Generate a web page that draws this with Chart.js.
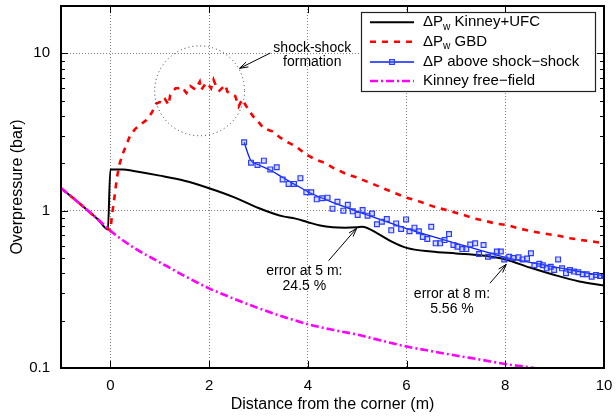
<!DOCTYPE html>
<html>
<head>
<meta charset="utf-8">
<script src="https://cdn.jsdelivr.net/npm/chart.js@4/dist/chart.umd.min.js"></script>
<style>
html,body{margin:0;padding:0;background:#fff;}
#wrap{width:616px;height:418px;position:relative;}
</style>
</head>
<body>
<div id="wrap"><canvas id="c" width="616" height="418"></canvas></div>
<script>
// ---- data ----
const seriesLabels = ['ΔP_w Kinney+UFC', 'ΔP_w GBD', 'ΔP above shock\u2212shock', 'Kinney free\u2212field'];

const kinneyUfcX = [-1, -0.75, -0.5, -0.25, -0.05, 0, 0.25, 0.5, 1, 1.5, 2, 2.5, 3, 3.3, 3.5, 3.75, 4, 4.25, 4.5, 4.75, 5, 5.1, 5.4, 5.7, 6, 6.5, 7, 7.5, 8, 8.5, 9, 9.5, 10];
const kinneyUfcY = [1.39, 1.20, 1.03, 0.88, 0.76, 1.83, 1.83, 1.78, 1.67, 1.55, 1.39, 1.22, 1.04, 0.96, 0.92, 0.89, 0.845, 0.805, 0.785, 0.78, 0.785, 0.79, 0.72, 0.635, 0.58, 0.55, 0.535, 0.52, 0.49, 0.435, 0.39, 0.355, 0.334];

const gbdX = [-1, -0.75, -0.5, -0.25, 0, 0.03, 0.08, 0.13, 0.18, 0.25, 0.32, 0.4, 0.5, 0.6, 0.73, 0.84, 0.93, 1.0, 1.07, 1.11, 1.18, 1.21, 1.32, 1.38, 1.45, 1.54, 1.62, 1.72, 1.81, 1.84, 1.94, 1.99, 2.04, 2.09, 2.15, 2.21, 2.33, 2.37, 2.45, 2.53, 2.60, 2.67, 2.72, 2.80, 2.90, 2.97, 3.1, 3.29, 3.45, 3.58, 3.77, 3.95, 4.15, 4.33, 4.53, 4.78, 4.98, 5.2, 5.5, 5.75, 6.0, 6.24, 6.44, 6.65, 6.88, 7.15, 7.39, 7.6, 7.79, 8.03, 8.27, 8.5, 8.8, 9.08, 9.31, 9.55, 9.8, 10];
const gbdY = [1.39, 1.20, 1.03, 0.88, 0.745, 0.92, 1.2, 1.6, 1.95, 2.3, 2.6, 3.0, 3.3, 3.5, 3.77, 4.2, 4.8, 4.9, 4.8, 5.1, 4.7, 5.4, 6.0, 6.0, 6.1, 5.6, 6.2, 5.9, 6.6, 5.85, 6.5, 6.3, 6.0, 6.8, 6.1, 5.8, 6.3, 5.7, 5.5, 5.35, 4.6, 5.1, 4.8, 4.36, 3.95, 3.77, 3.35, 3.18, 2.9, 2.74, 2.55, 2.29, 2.12, 2.02, 1.86, 1.71, 1.63, 1.53, 1.40, 1.30, 1.21, 1.15, 1.09, 1.04, 0.995, 0.94, 0.89, 0.86, 0.83, 0.81, 0.773, 0.743, 0.715, 0.693, 0.668, 0.65, 0.635, 0.62];

const shockX = [2.71, 2.85, 2.98, 3.11, 3.24, 3.37, 3.49, 3.61, 3.72, 3.85, 3.97, 4.07, 4.18, 4.29, 4.40, 4.50, 4.60, 4.72, 4.81, 4.91, 5.01, 5.11, 5.21, 5.30, 5.40, 5.50, 5.60, 5.69, 5.79, 5.89, 5.99, 6.06, 6.16, 6.25, 6.33, 6.42, 6.50, 6.59, 6.68, 6.77, 6.86, 6.95, 7.03, 7.13, 7.21, 7.29, 7.39, 7.47, 7.56, 7.65, 7.74, 7.83, 7.91, 7.98, 8.08, 8.16, 8.27, 8.35, 8.44, 8.52, 8.59, 8.69, 8.76, 8.84, 8.92, 8.99, 9.07, 9.15, 9.23, 9.31, 9.39, 9.48, 9.57, 9.65, 9.75, 9.84, 9.92, 10.0];
const shockY = [2.72, 2.02, 1.95, 2.08, 1.83, 1.89, 1.58, 1.48, 1.48, 1.61, 1.31, 1.31, 1.18, 1.20, 1.21, 1.03, 1.14, 1.0, 1.09, 0.99, 0.94, 1.01, 0.93, 0.96, 0.82, 0.85, 0.885, 0.75, 0.83, 0.765, 0.88, 0.74, 0.78, 0.74, 0.68, 0.66, 0.79, 0.62, 0.62, 0.65, 0.71, 0.605, 0.59, 0.57, 0.57, 0.61, 0.62, 0.53, 0.605, 0.51, 0.518, 0.55, 0.55, 0.49, 0.51, 0.50, 0.505, 0.49, 0.497, 0.536, 0.45, 0.46, 0.45, 0.43, 0.44, 0.42, 0.49, 0.43, 0.40, 0.42, 0.41, 0.406, 0.394, 0.394, 0.38, 0.39, 0.385, 0.385];

const shockFitX = [2.71, 2.84, 3.0, 3.25, 3.5, 3.75, 4.0, 4.5, 5.0, 5.5, 6.0, 6.5, 7.0, 7.5, 8.0, 8.5, 9.0, 9.5, 10];
const shockFitY = [2.72, 2.1, 1.96, 1.80, 1.62, 1.46, 1.32, 1.13, 0.99, 0.87, 0.77, 0.69, 0.62, 0.56, 0.505, 0.47, 0.44, 0.41, 0.385];

const freeFieldX = [-1, -0.75, -0.5, -0.25, 0, 0.5, 1, 1.5, 2, 2.5, 3, 3.5, 4, 4.5, 5, 5.5, 6, 6.5, 7, 7.5, 8, 8.5, 9];
const freeFieldY = [1.39, 1.20, 1.03, 0.88, 0.745, 0.575, 0.47, 0.385, 0.321, 0.276, 0.24, 0.212, 0.19, 0.175, 0.163, 0.149, 0.137, 0.128, 0.12, 0.113, 0.106, 0.101, 0.095];

const xTickValues = [0, 2, 4, 6, 8, 10];
const yTickValues = [0.1, 1, 10];
const yTickLabels = ['0.1', '1', '10'];
const yMinorValues = [0.2,0.3,0.4,0.5,0.6,0.7,0.8,0.9,2,3,4,5,6,7,8,9];
const xTitle = 'Distance from the corner (m)';
const yTitle = 'Overpressure (bar)';

// annotations (anchors in data coordinates)
const noteTexts = [['shock-shock', 'formation'], ['error at 5 m:', '24.5 %'], ['error at 8 m:', '5.56 %']];
const noteAnchors = [[4.09, 10.86], [3.93, 0.414], [6.92, 0.296]];
const arrowFrom = [[3.24, 10.05], [4.42, 0.481], [7.69, 0.346]];
const arrowTo   = [[2.617, 8.03], [4.99, 0.773], [8.02, 0.456]];
const circleCenter = [1.808, 5.78];
const circleRadiusX = 0.91;

const FONT = "'Liberation Sans', Arial, Helvetica, sans-serif";
const pts = (xs, ys) => xs.map((x, i) => ({x: x, y: ys[i]}));

const colors = {black: '#000000', red: '#ff0000', blue: '#0a1fff', magenta: '#ff00ff'};

const datasets = [
  {label: seriesLabels[0], data: pts(kinneyUfcX, kinneyUfcY), showLine: true, borderColor: colors.black, borderWidth: 2, pointRadius: 0, cubicInterpolationMode: 'monotone', order: 5},
  {label: seriesLabels[1], data: pts(gbdX, gbdY), showLine: true, borderColor: colors.red, borderWidth: 2.6, borderDash: [6, 6], pointRadius: 0, order: 4},
  {label: seriesLabels[2], data: pts(shockFitX, shockFitY), showLine: true, borderColor: colors.blue, borderWidth: 1.3, pointRadius: 0, cubicInterpolationMode: 'monotone', order: 3},
  {label: '', data: pts(shockX, shockY), showLine: false, pointStyle: 'rect', pointRadius: 3.4, pointBorderWidth: 1.2, pointBorderColor: '#2a3cff', pointBackgroundColor: 'rgba(90,110,255,0.25)', order: 2},
  {label: seriesLabels[3], data: pts(freeFieldX, freeFieldY), showLine: true, borderColor: colors.magenta, borderWidth: 2.6, borderDash: [8, 3, 2, 3], pointRadius: 0, cubicInterpolationMode: 'monotone', order: 1}
];

function drawArrow(ctx, x1, y1, x2, y2) {
  const ang = Math.atan2(y2 - y1, x2 - x1);
  const L = 9, w = 0.3;
  ctx.beginPath();
  ctx.moveTo(x1, y1); ctx.lineTo(x2, y2);
  ctx.moveTo(x2 - L * Math.cos(ang - w), y2 - L * Math.sin(ang - w));
  ctx.lineTo(x2, y2);
  ctx.lineTo(x2 - L * Math.cos(ang + w), y2 - L * Math.sin(ang + w));
  ctx.stroke();
}

function drawLabelWithSub(ctx, text, x, y, size) {
  const parts = text.split(/_(.)/);
  let cx = x;
  parts.forEach((p, i) => {
    if (i % 2 === 1) {
      ctx.font = (size * 0.68) + 'px ' + FONT;
      ctx.fillText(p, cx, y + size * 0.3);
      cx += ctx.measureText(p).width;
    } else {
      ctx.font = size + 'px ' + FONT;
      ctx.fillText(p, cx, y);
      cx += ctx.measureText(p).width;
    }
  });
}

const decor = {
  id: 'decor',
  afterDatasetsDraw(chart) {
    const {ctx, chartArea: a, scales: {x, y}} = chart;
    ctx.save();
    // inward ticks
    ctx.strokeStyle = '#000';
    ctx.lineWidth = 1;
    ctx.setLineDash([]);
    ctx.beginPath();
    xTickValues.forEach(v => {
      const px = Math.round(x.getPixelForValue(v)) + 0.5;
      ctx.moveTo(px, a.bottom); ctx.lineTo(px, a.bottom - 7);
      ctx.moveTo(px, a.top); ctx.lineTo(px, a.top + 7);
    });
    yTickValues.forEach(v => {
      const py = Math.round(y.getPixelForValue(v)) + 0.5;
      ctx.moveTo(a.left, py); ctx.lineTo(a.left + 7, py);
      ctx.moveTo(a.right, py); ctx.lineTo(a.right - 7, py);
    });
    yMinorValues.forEach(v => {
      const py = Math.round(y.getPixelForValue(v)) + 0.5;
      ctx.moveTo(a.left, py); ctx.lineTo(a.left + 4, py);
      ctx.moveTo(a.right, py); ctx.lineTo(a.right - 4, py);
    });
    ctx.stroke();

    // circle
    const cx = x.getPixelForValue(circleCenter[0]);
    const cy = y.getPixelForValue(circleCenter[1]);
    const r = x.getPixelForValue(circleCenter[0] + circleRadiusX) - cx;
    ctx.strokeStyle = '#333';
    ctx.lineWidth = 1;
    ctx.setLineDash([1, 3]);
    ctx.beginPath();
    ctx.arc(cx, cy, r, 0, Math.PI * 2);
    ctx.stroke();
    ctx.setLineDash([]);

    // arrows
    ctx.strokeStyle = '#000';
    ctx.lineWidth = 1;
    arrowFrom.forEach((f, i) => {
      const t = arrowTo[i];
      drawArrow(ctx, x.getPixelForValue(f[0]), y.getPixelForValue(f[1]), x.getPixelForValue(t[0]), y.getPixelForValue(t[1]));
    });

    // note texts
    ctx.fillStyle = '#000';
    ctx.font = '14px ' + FONT;
    ctx.textAlign = 'center';
    ctx.textBaseline = 'middle';
    noteTexts.forEach((lines, i) => {
      const px = x.getPixelForValue(noteAnchors[i][0]);
      const py = y.getPixelForValue(noteAnchors[i][1]);
      lines.forEach((ln, j) => ctx.fillText(ln, px, py + j * 14.8));
    });

    // frame
    ctx.lineWidth = 2;
    ctx.strokeStyle = '#000';
    ctx.strokeRect(a.left, a.top, a.right - a.left, a.bottom - a.top);

    // legend (key)
    const kx = a.right - 243, ky = a.top + 6, kw = 234, kh = 79;
    ctx.fillStyle = '#fff';
    ctx.fillRect(kx, ky, kw, kh);
    ctx.lineWidth = 1.2;
    ctx.strokeStyle = '#222';
    ctx.strokeRect(kx + 0.5, ky + 0.5, kw, kh);
    const rowY = [10.3, 29.8, 50, 69];
    const legendDs = [0, 1, 2, 4];
    legendDs.forEach((di, i) => {
      const ds = chart.data.datasets[di];
      const yy = ky + rowY[i];
      ctx.save();
      ctx.strokeStyle = ds.borderColor;
      ctx.lineWidth = ds.borderWidth;
      ctx.setLineDash(ds.borderDash || []);
      ctx.beginPath();
      ctx.moveTo(kx + 9, yy); ctx.lineTo(kx + 53, yy);
      ctx.stroke();
      ctx.setLineDash([]);
      if (di === 2) {
        const m = chart.data.datasets[3];
        ctx.lineWidth = m.pointBorderWidth;
        ctx.strokeStyle = m.pointBorderColor;
        ctx.fillStyle = m.pointBackgroundColor;
        ctx.fillRect(kx + 31 - 2.4, yy - 2.4, 4.8, 4.8);
        ctx.strokeRect(kx + 31 - 2.4, yy - 2.4, 4.8, 4.8);
      }
      ctx.restore();
      ctx.fillStyle = '#000';
      ctx.textAlign = 'left';
      ctx.textBaseline = 'middle';
      drawLabelWithSub(ctx, ds.label, kx + 62, yy, 15);
    });
    ctx.restore();
  }
};

new Chart(document.getElementById('c'), {
  type: 'scatter',
  data: {datasets: datasets},
  plugins: [decor],
  options: {
    responsive: false,
    animation: false,
    devicePixelRatio: 1,
    events: [],
    layout: {padding: {left: 0, right: 12, top: 6, bottom: 0}},
    plugins: {legend: {display: false}, tooltip: {enabled: false}},
    scales: {
      x: {
        type: 'linear', min: -1, max: 10,
        afterBuildTicks: s => { s.ticks = xTickValues.map(v => ({value: v})); },
        afterFit: s => { s.height = 50; s.paddingLeft = 0; s.paddingRight = 0; s.paddingTop = 0; s.paddingBottom = 0; },
        ticks: {color: '#000', font: {family: FONT, size: 15}, padding: 9, maxRotation: 0, autoSkip: false, callback: v => String(v)},
        grid: {drawTicks: false, lineWidth: 1, color: c => (c.tick && c.tick.value > -1 && c.tick.value < 10) ? '#808080' : 'rgba(0,0,0,0)'},
        border: {display: false, dash: [1, 2]},
        title: {display: true, text: xTitle, color: '#000', font: {family: FONT, size: 16}, padding: {top: 0, bottom: 4}}
      },
      y: {
        type: 'logarithmic', min: 0.1, max: 20,
        afterBuildTicks: s => { s.ticks = yTickValues.map(v => ({value: v})); },
        afterFit: s => { s.width = 61; s.paddingLeft = 0; s.paddingRight = 0; s.paddingTop = 0; s.paddingBottom = 0; },
        ticks: {color: '#000', font: {family: FONT, size: 15}, padding: 11, autoSkip: false, callback: (v) => { const i = yTickValues.indexOf(v); return i >= 0 ? yTickLabels[i] : ''; }},
        grid: {drawTicks: false, lineWidth: 1, color: c => (c.tick && (c.tick.value === 1 || c.tick.value === 10)) ? '#808080' : 'rgba(0,0,0,0)'},
        border: {display: false, dash: [1, 2]},
        title: {display: true, text: yTitle, color: '#000', font: {family: FONT, size: 16}, padding: {top: 8, bottom: 0}}
      }
    }
  }
});
</script>
</body>
</html>
